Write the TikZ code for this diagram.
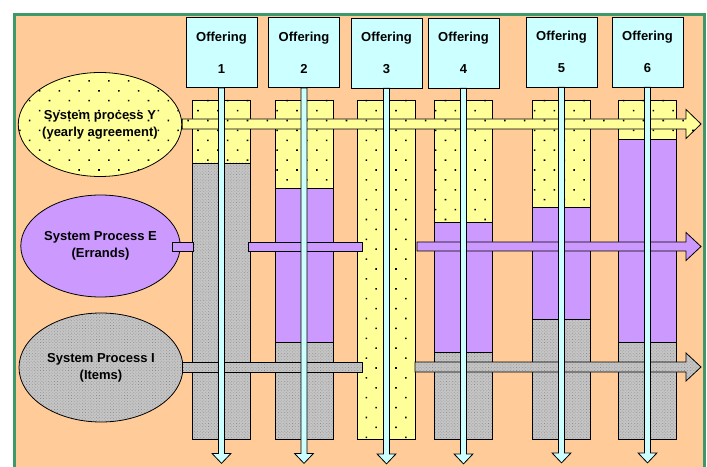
\documentclass[tikz,border=0pt]{standalone}
\usepackage{fontspec}
\setmainfont{Liberation Sans}
\usetikzlibrary{patterns.meta,calc,shapes.geometric}
\definecolor{peach}{HTML}{FFCC99}
\definecolor{framegreen}{HTML}{3C9A6A}
\definecolor{ylw}{HTML}{FFFF99}
\definecolor{prp}{HTML}{CC99FF}
\definecolor{gry}{HTML}{C4C4C4}
\definecolor{gryd}{HTML}{8A8A8A}
\definecolor{cyn}{HTML}{CCFFFF}
\tikzset{
  outl/.style={draw=black, line width=0.8bp},
  yfill/.style={outl, preaction={fill=ylw}, pattern={Dots[distance=14bp, radius=1.1bp, angle=45]}, pattern color=black},
  pfill/.style={outl, fill=prp},
  gfill/.style={outl, preaction={fill=gry}, pattern={Dots[distance=2.2bp, radius=0.45bp, angle=45]}, pattern color=gryd},
  offer/.style={outl, fill=cyn, minimum width=71bp, minimum height=70bp, align=center, inner sep=0pt},
  proc/.style={outl, ellipse, minimum width=157bp, minimum height=104bp, inner sep=0pt, align=center},
  varrow/.style={outl, fill=cyn},
  lbl/.style={font=\fontsize{13bp}{17bp}\selectfont\bfseries}
}
\newcommand\colbar[3]{% cx, yellow bottom, purple bottom
  \fill[yfill] ({#1-29},100) rectangle ({#1+29},#2);
  \ifdim #3pt>#2pt \fill[pfill] ({#1-29},#2) rectangle ({#1+29},#3);\fi
  \ifdim 439pt>#3pt \fill[gfill] ({#1-29},#3) rectangle ({#1+29},439);\fi
}
\newcommand\vArrow[2]{% box node, tip coordinate
  \draw[varrow] ($(#1.south)+(-3,0)$) -- ($(#2)+(-3,-10)$) -- ($(#2)+(-9.5,-10)$) -- (#2)
    -- ($(#2)+(9.5,-10)$) -- ($(#2)+(3,-10)$) -- ($(#1.south)+(3,0)$) -- cycle;
}
\newcommand\hArrow[5]{% start coord, tip coord, half shaft, half head, style
  \draw[#5] ($(#1)+(0,-#3)$) -- ($(#2)+(-15,-#3)$) -- ($(#2)+(-15,-#4)$) -- (#2)
    -- ($(#2)+(-15,#4)$) -- ($(#2)+(-15,#3)$) -- ($(#1)+(0,#3)$) -- cycle;
}
\begin{document}
\begin{tikzpicture}[x=1bp,y=-1bp]
\useasboundingbox (0,0) rectangle (707,467);
\begin{scope}
  \clip (0,0) rectangle (707,467);
  \fill[white] (0,0) rectangle (707,467);
  \draw[line width=3bp, draw=framegreen, fill=peach] (14.5,14.5) rectangle (704.5,500);
\end{scope}

% columns
\colbar{221.5}{163}{163}
\colbar{304}{188}{342}
\colbar{386.5}{439}{439}
\colbar{463.5}{222}{352}
\colbar{561.5}{207}{319}
\colbar{647.5}{139}{342}

% process ellipses
\node[proc, yfill, lbl] (py) at (100,124.5) {System process Y\\(yearly agreement)};
\node[proc, pfill, lbl, minimum height=102bp, minimum width=155bp] (pe) at (100.5,246) {System Process E\\(Errands)};
\node[proc, gfill, lbl, minimum width=164bp, minimum height=109bp] (pi) at (101,367.5) {System Process I\\(Items)};

% horizontal arrows
\coordinate (ty) at (701,124);
\coordinate (te) at (701,246.5);
\coordinate (ti) at (701,367);
\hArrow{py.east |- ty}{ty}{5}{14.5}{yfill}
% E arrow pieces
\fill[pfill] (172,242) rectangle (193,251);
\fill[pfill] (248,242) rectangle (362,251);
\hArrow{417,246.5}{te}{4.5}{14}{pfill}
% I arrow pieces
\fill[gfill] ($(pi.east |- ti)+(-1,-5)$) rectangle (362,372);
\hArrow{415,367}{ti}{5}{14}{gfill}

% offering boxes
\node[offer, lbl] (o1) at (221.5,52.5) {Offering\\[15bp]1};
\node[offer, lbl] (o2) at (304,52.5) {Offering\\[15bp]2};
\node[offer, lbl] (o3) at (386.5,53) {Offering\\[15bp]3};
\node[offer, lbl] (o4) at (463.5,53) {Offering\\[15bp]4};
\node[offer, lbl] (o5) at (561.5,52) {Offering\\[15bp]5};
\node[offer, lbl] (o6) at (647.5,52) {Offering\\[15bp]6};

% vertical arrows
\foreach \i in {1,...,6} {
  \path (o\i.south) ++(0,375.5) coordinate (t\i);
  \vArrow{o\i}{t\i}
}
\end{tikzpicture}
\end{document}
